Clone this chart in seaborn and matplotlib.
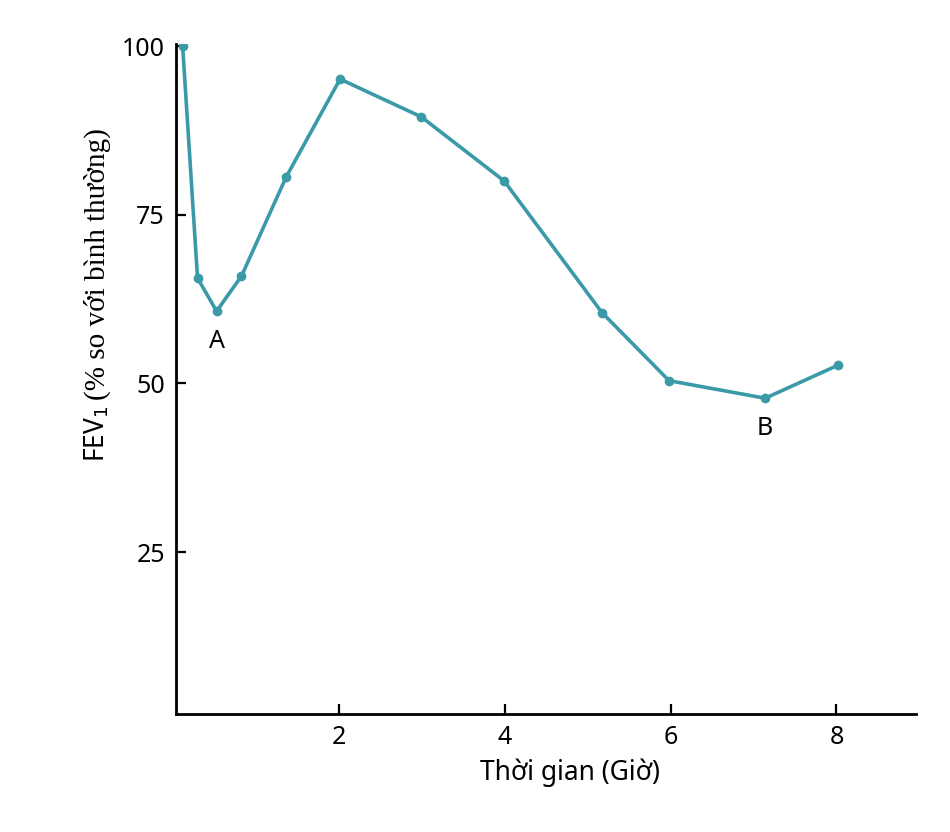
import matplotlib
matplotlib.use("Agg")
import matplotlib.pyplot as plt
import seaborn as sns
import pandas as pd

# data
hours = [0.11, 0.29, 0.52, 0.82, 1.36, 2.01, 2.99, 3.99, 5.17, 5.98, 7.14, 8.02]
fev1 = [100.0, 65.6, 60.7, 65.9, 80.6, 95.1, 89.5, 80.0, 60.5, 50.4, 47.8, 52.7]
x_ticks = [2, 4, 6, 8]
y_ticks = [25, 50, 75, 100]
annotations = [("A", 0.52, 60.7), ("B", 7.14, 47.8)]

sns.set_theme(style="white")
plt.rcParams['font.family'] = ['Noto Sans', 'DejaVu Sans']
plt.rcParams['text.color'] = 'black'

color = "#3a9aa8"
df = pd.DataFrame({"h": hours, "v": fev1})

fig = plt.figure(figsize=(9.5, 8.32), dpi=100)
ax = fig.add_axes([176/950, 1-714/832, (916-176)/950, (714-44)/832])

sns.lineplot(data=df, x="h", y="v", ax=ax, color=color, linewidth=2.6,
             marker="o", markersize=7, markeredgewidth=0, sort=False)

ax.set_xlim(0.03, 8.96)
ax.set_ylim(1, 100.3)
ax.set_xticks(x_ticks)
ax.set_yticks(y_ticks)
ax.tick_params(bottom=True, left=True, direction="in", length=7, width=1.6,
               labelsize=18, colors="black", pad=8)
for s in ["top", "right"]:
    ax.spines[s].set_visible(False)
for s in ["left", "bottom"]:
    ax.spines[s].set_linewidth(2)
    ax.spines[s].set_color("black")
ax.set_xlabel("")
ax.set_ylabel("")

for lab, x, y in annotations:
    ax.annotate(lab, (x, y), xytext=(0, -13), textcoords="offset points",
                ha="center", va="top", fontsize=18, color="black")

fig.text(570/950, 1-773/832, "Thời gian (Giờ)", ha="center", va="center",
         fontsize=19, color="black")
fig.text(97/950, 1-462/832, "FEV$_1$", rotation=90, ha="center", va="bottom",
         fontsize=19, color="black")
fig.text(97/950, 1-400/832, "(% so với bình thường)", rotation=90, ha="center",
         va="bottom", fontsize=21, color="black",
         family=["Liberation Serif", "DejaVu Serif"])

fig.savefig("out.png", dpi=100)
